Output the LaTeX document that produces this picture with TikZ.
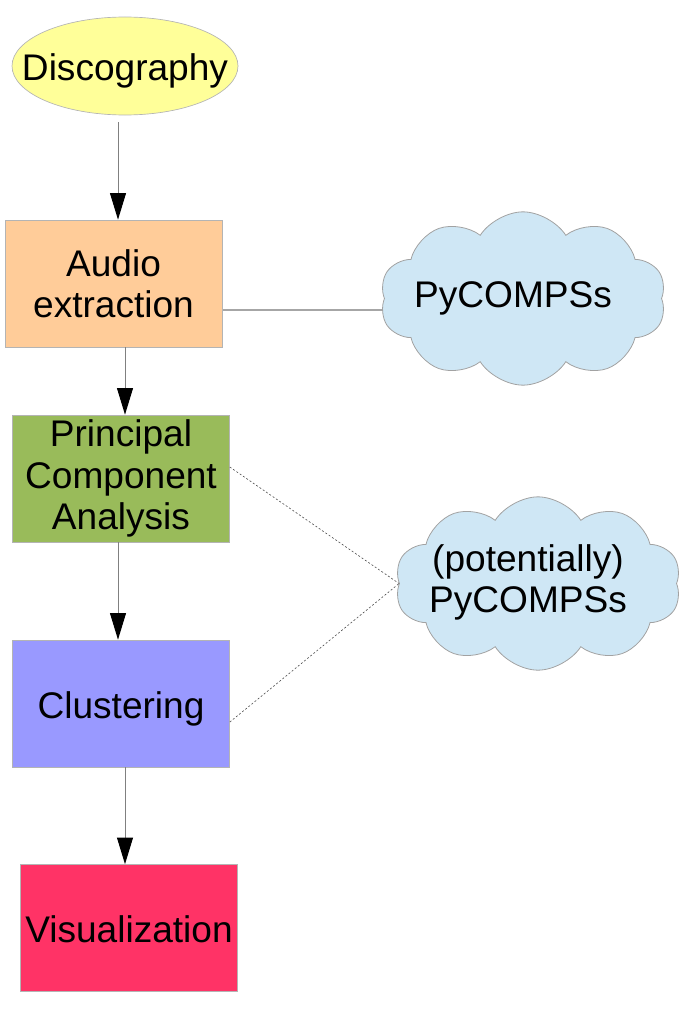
\documentclass[tikz,border=0pt]{standalone}
\usepackage{fontspec}
\setmainfont{Liberation Sans}
\usetikzlibrary{shapes.geometric,shapes.symbols,arrows.meta,calc,backgrounds}

\definecolor{discyellow}{HTML}{FFFF99}
\definecolor{audiopeach}{HTML}{FFCC99}
\definecolor{pcagreen}{HTML}{99BB5A}
\definecolor{clublue}{HTML}{9999FF}
\definecolor{visred}{HTML}{FF3366}
\definecolor{cloudblue}{HTML}{CFE7F5}
\definecolor{edgegray}{HTML}{B4B4B4}

\tikzset{
  bigtext/.style={font=\fontsize{27.8pt}{31pt}\selectfont},
  oneline/.style={text height=22pt, text depth=0pt},
  stage/.style={rectangle, bigtext, draw=edgegray, line width=0.5pt, inner sep=0pt,
    minimum width=162.75pt, minimum height=95.25pt, align=center},
  cloudy/.style={cloud, cloud puffs=10, cloud puff arc=115, cloud ignores aspect,
    fill=cloudblue, draw=edgegray!90!black, line width=0.6pt, bigtext,
    minimum width=214.5pt, minimum height=130pt, inner sep=0pt},
  flow/.style={draw=gray, line width=0.75pt, -{Triangle[length=20pt,width=12pt,color=black]}},
  link/.style={draw=gray!70, line width=0.9pt},
  hint/.style={draw=black!70, line width=0.45pt, dash pattern=on 1.5pt off 1.5pt}
}

\begin{document}
\begin{tikzpicture}[x=0.75pt,y=-0.75pt]
\useasboundingbox (0,0) rectangle (686,1024);

% the pipeline
\node[ellipse, fill=discyellow, draw=edgegray, line width=0.5pt, bigtext, oneline, inner sep=0pt,
  minimum width=169.5pt, minimum height=73.5pt] (disc) at (125,66) {\makebox[0pt]{Discography}};
\node[stage, fill=audiopeach] (audio) at (113.5,283.5) {Audio\\extraction};
\node[stage, fill=pcagreen] (pca) at (121,478.5) {Principal\\Component\\Analysis};
\node[stage, oneline, fill=clublue] (clu) at (121,703.5) {Clustering};
\node[stage, oneline, fill=visred] (vis) at (129,928) {Visualization};

% clouds
\node[cloudy] (pyc) at (523,298.5) {\makebox[0pt]{\hspace*{-15pt}PyCOMPSs}};
\node[cloudy] (pot) at (538,583.5)
  {\makebox[0pt]{\hspace*{-15pt}\begin{tabular}{@{}c@{}}(potentially)\\PyCOMPSs\end{tabular}}};

% arrows
\coordinate (a1) at ($(disc.south)+(-7,7)$);
\draw[flow] (a1) -- (a1 |- audio.north);
\coordinate (a2) at ($(audio.south)+(11.5,0)$);
\draw[flow] (a2) -- (a2 |- pca.north);
\coordinate (a3) at ($(pca.south)+(-3,0)$);
\draw[flow] (a3) -- (a3 |- clu.north);
\coordinate (a4) at ($(clu.south)+(4,0)$);
\draw[flow] (a4) -- (a4 |- vis.north);

% links to the clouds
\begin{scope}[on background layer]
\coordinate (l1) at ($(audio.east)+(-6,26.5)$);
\draw[link] (l1) -- (l1 -| pyc.west);
\end{scope}
\draw[hint] ([yshift=8.6pt]pca.east) -- (pot.west);
\draw[hint] ([yshift=-13.9pt]clu.east) -- (pot.west);

\end{tikzpicture}
\end{document}
